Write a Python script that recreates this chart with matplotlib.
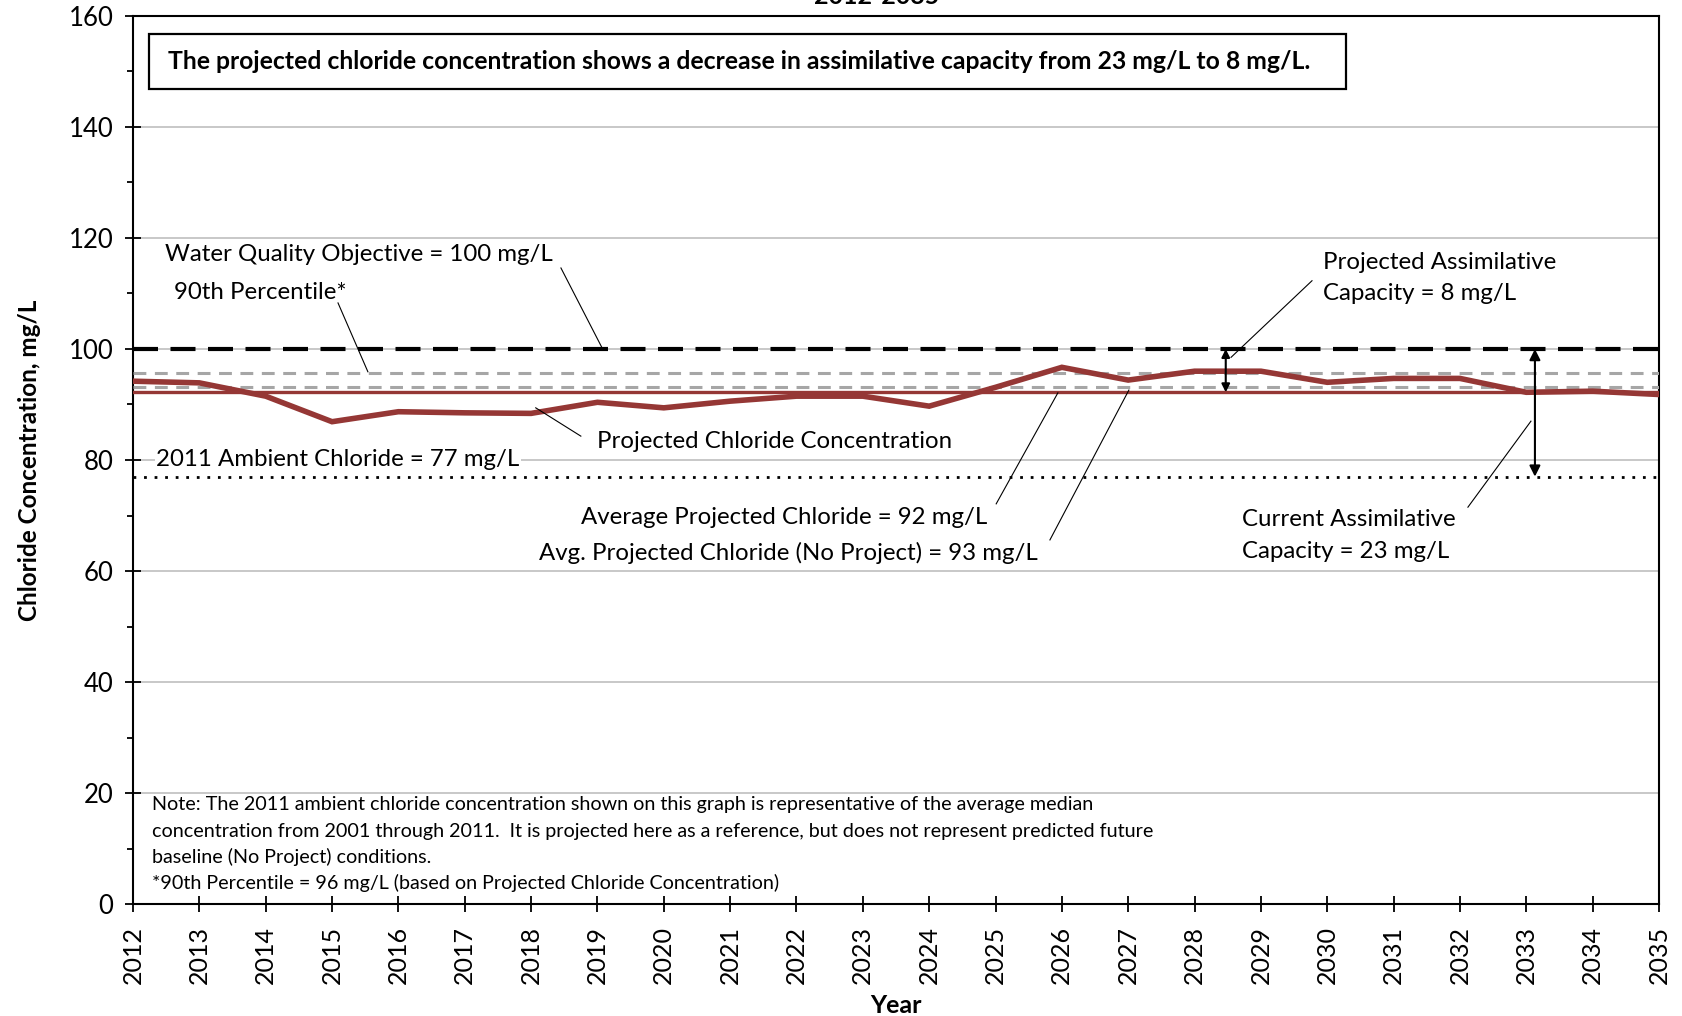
import matplotlib
matplotlib.use("Agg")
import matplotlib.pyplot as plt
from matplotlib.patches import Rectangle
from matplotlib.ticker import MultipleLocator

plt.rcParams['font.family'] = ['Lato', 'DejaVu Sans']

# ---- data ----
years = list(range(2012, 2036))
projected = [94.2, 93.9, 91.5, 86.9, 88.7, 88.5, 88.4, 90.4, 89.4, 90.6, 91.5, 91.5,
             89.7, 93.1, 96.7, 94.4, 96.0, 96.0, 94.0, 94.7, 94.7, 92.2, 92.4, 91.8]
wqo = 100
pct90 = 95.6
avg_no_project = 93.2
avg_projected = 92.2
ambient_2011 = 77
yticks = list(range(0, 161, 20))

red = '#953735'
gray = '#A6A6A6'

fig = plt.figure(figsize=(16.83, 10.16), dpi=100)
ax = fig.add_axes([133/1683, 112/1016, 1526/1683, 888/1016])

x0, x1 = years[0], years[-1]
ax.plot([x0, x1], [wqo, wqo], color='black', lw=3, dashes=(6, 3), zorder=5)
ax.plot([x0, x1], [pct90, pct90], color=gray, lw=2.2, dashes=(4.2, 2.8), zorder=3)
ax.plot([x0, x1], [avg_no_project, avg_no_project], color=gray, lw=2.2, dashes=(4.2, 2.8), zorder=3)
ax.plot([x0, x1], [avg_projected, avg_projected], color=red, lw=2.4, zorder=4)
ax.plot([x0, x1], [ambient_2011, ambient_2011], color='black', lw=2.0, dashes=(1, 2.8), zorder=4)
ax.plot(years, projected, color=red, lw=4.0, zorder=6, solid_joinstyle='miter')

ax.set_xlim(x0, x1)
ax.set_ylim(0, 160)
ax.set_xticks(years)
ax.set_xticklabels([str(y) for y in years], rotation=90, fontsize=18)
ax.set_yticks(yticks)
ax.set_yticklabels([str(v) for v in yticks], fontsize=18.5)
ax.yaxis.set_minor_locator(MultipleLocator(10))
ax.tick_params(axis='both', which='major', direction='inout', length=12, width=1.3, pad=8)
ax.tick_params(axis='y', which='minor', direction='out', length=4.5, width=1.3)
ax.tick_params(axis='x', which='major', pad=10)
ax.grid(axis='y', which='major', color='#BFBFBF', lw=1.2, zorder=0)
ax.set_axisbelow(True)
for s in ax.spines.values():
    s.set_linewidth(1.5)

ax.set_xlabel('Year', fontsize=18, fontweight='bold', labelpad=7)
ax.set_ylabel('Chloride Concentration, mg/L', fontsize=17.5, fontweight='bold', labelpad=20)

fig.text(877/1683, 1012.5/1016, '2012-2035', ha='center', va='baseline',
         fontsize=18, fontweight='bold')

# headline box
ax.add_patch(Rectangle((2012.24, 146.8), 18.04, 10.0, fill=False, lw=1.6,
                       edgecolor='black', zorder=7, clip_on=False))
ax.text(2012.53, 151.8, 'The projected chloride concentration shows a decrease in assimilative capacity from 23 mg/L to 8 mg/L.',
        fontsize=17.8, fontweight='bold', va='center', ha='left', zorder=8)

fs = 17.3
lk = dict(color='black', lw=0.8, zorder=7)
# Water quality objective
ax.text(2012.48, 117.1, 'Water Quality Objective = 100 mg/L', fontsize=fs, va='center', ha='left')
ax.plot([2018.45, 2019.07], [114.6, 100.2], **lk)
# 90th percentile
ax.text(2012.62, 110.1, '90th Percentile*', fontsize=fs, va='center', ha='left')
ax.plot([2015.09, 2015.54], [108.3, 95.9], **lk)
# projected assimilative capacity
ax.text(2029.94, 112.8, 'Projected Assimilative\nCapacity = 8 mg/L', fontsize=fs, va='center',
        ha='left', linespacing=1.6)
ax.plot([2029.77, 2028.55], [112.3, 98.5], **lk)
ax.annotate('', xy=(2028.47, wqo), xytext=(2028.47, avg_projected),
            arrowprops=dict(arrowstyle='<|-|>', color='black', lw=1.5, mutation_scale=12,
                            shrinkA=0, shrinkB=0), zorder=9)
# current assimilative capacity
ax.annotate('', xy=(2033.13, wqo), xytext=(2033.13, ambient_2011),
            arrowprops=dict(arrowstyle='<|-|>', color='black', lw=1.5, mutation_scale=16,
                            shrinkA=0, shrinkB=0), zorder=9)
ax.text(2028.71, 66.4, 'Current Assimilative\nCapacity = 23 mg/L', fontsize=fs, va='center',
        ha='left', linespacing=1.6)
ax.plot([2032.12, 2033.07], [71.5, 87.0], **lk)
# projected chloride concentration
ax.text(2018.99, 83.4, 'Projected Chloride Concentration', fontsize=fs, va='center', ha='left')
ax.plot([2018.75, 2018.07], [84.3, 89.4], **lk)
# ambient
ax.text(2012.35, 80.0, '2011 Ambient Chloride = 77 mg/L', fontsize=fs, va='center', ha='left',
        bbox=dict(facecolor='white', edgecolor='none', pad=1), zorder=3)
# averages
ax.text(2018.75, 69.7, 'Average Projected Chloride = 92 mg/L', fontsize=fs, va='center', ha='left')
ax.plot([2025.01, 2025.94], [72.1, 92.1], **lk)
ax.text(2018.12, 63.2, 'Avg. Projected Chloride (No Project) = 93 mg/L', fontsize=fs, va='center', ha='left')
ax.plot([2025.82, 2027.01], [65.6, 92.6], **lk)

# note
note_lines = [
    'Note: The 2011 ambient chloride concentration shown on this graph is representative of the average median',
    'concentration from 2001 through 2011.  It is projected here as a reference, but does not represent predicted future',
    'baseline (No Project) conditions.',
    '*90th Percentile = 96 mg/L (based on Projected Chloride Concentration)',
]
for i, line in enumerate(note_lines):
    ax.text(2012.29, 17.84 - i * 4.69, line, fontsize=14.2, va='center', ha='left',
            bbox=dict(facecolor='white', edgecolor='none', pad=0.5) if i == 0 else None)

fig.savefig('out.png', dpi=100)
